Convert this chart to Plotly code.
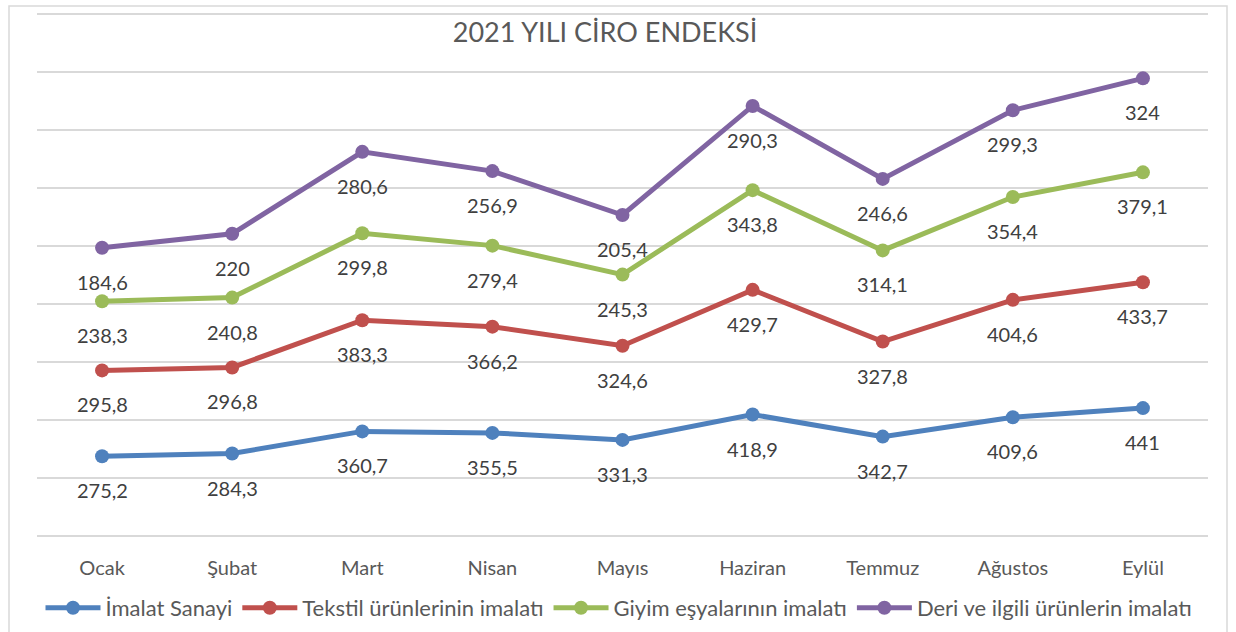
import numpy as np
import plotly.graph_objects as go


# =====================================================
# DATA
# =====================================================

months = ["Ocak", "Şubat", "Mart", "Nisan", "Mayıs",
          "Haziran", "Temmuz", "Ağustos", "Eylül"]

imalat = [275.2, 284.3, 360.7, 355.5, 331.3, 418.9, 342.7, 409.6, 441]
tekstil = [295.8, 296.8, 383.3, 366.2, 324.6, 429.7, 327.8, 404.6, 433.7]
giyim = [238.3, 240.8, 299.8, 279.4, 245.3, 343.8, 314.1, 354.4, 379.1]
deri = [184.6, 220, 280.6, 256.9, 205.4, 290.3, 246.6, 299.3, 324]

series_names = [
    "İmalat Sanayi",
    "Tekstil ürünlerinin imalatı",
    "Giyim eşyalarının imalatı",
    "Deri ve ilgili ürünlerin imalatı",
]

colors = ["#4F81BD", "#C0504D", "#9BBB59", "#8064A2"]


def tr_num(v):
    return f"{v:g}".replace(".", ",")


# =====================================================
# STACKED LINE CHART
# =====================================================

fig = go.Figure()

annotations = []
cum = np.zeros(len(months))

for name, vals, col in zip(series_names, [imalat, tekstil, giyim, deri], colors):

    cum = cum + np.array(vals)

    fig.add_trace(
        go.Scatter(
            x=months,
            y=cum,
            name=name,
            mode="lines+markers",
            line=dict(color=col, width=5),
            marker=dict(color=col, size=14),
            hoverinfo="skip"
        )
    )

    for m, c, v in zip(months, cum, vals):
        annotations.append(
            dict(
                x=m,
                y=c,
                text=tr_num(v),
                showarrow=False,
                yshift=-34,
                font=dict(size=20, color="#404040")
            )
        )

# plot area in pixels: x 37..1208, y 11..536 (1800 gridline at y=14)
PL, PR, PT, PB = 37, 1208, 11, 536
pw, ph = PR - PL, PB - PT

frame = dict(
    type="rect",
    xref="paper", yref="paper",
    x0=(9 - PL) / pw, x1=(1227 - PL) / pw,
    y0=(PB - 640) / ph, y1=(PB - 6) / ph,
    line=dict(color="#D9D9D9", width=1.5),
    fillcolor="rgba(0,0,0,0)",
    layer="below"
)

fig.update_layout(
    width=1236,
    height=632,
    margin=dict(l=PL, r=1236 - PR, t=PT, b=632 - PB, autoexpand=False),
    paper_bgcolor="white",
    plot_bgcolor="white",
    font=dict(family="Lato, Carlito, sans-serif", color="#595959"),
    title=dict(
        text="2021 YILI CİRO ENDEKSİ",
        x=605 / 1236,
        xanchor="center",
        xref="container",
        yref="container",
        y=1 - 33 / 632,
        yanchor="middle",
        font=dict(size=27, color="#595959")
    ),
    xaxis=dict(
        range=[-0.5, 8.5],
        showgrid=False,
        showline=False,
        zeroline=False,
        ticks="",
        ticklabelstandoff=18,
        tickfont=dict(size=20, color="#595959")
    ),
    yaxis=dict(
        range=[0, 1810],
        dtick=200,
        showgrid=True,
        gridcolor="#D9D9D9",
        gridwidth=1.5,
        zeroline=True,
        zerolinecolor="#D9D9D9",
        zerolinewidth=1.5,
        showticklabels=False,
        ticks=""
    ),
    legend=dict(
        orientation="h",
        x=619 / 1236,
        xref="container",
        xanchor="center",
        y=(PB - 608) / ph,
        yanchor="middle",
        font=dict(size=22, color="#595959"),
        itemwidth=55,
        tracegroupgap=0
    ),
    annotations=annotations,
    shapes=[frame]
)

fig.write_html(
    "out.html",
    config={"displayModeBar": False},
    post_script="document.body.style.margin='0';"
)
